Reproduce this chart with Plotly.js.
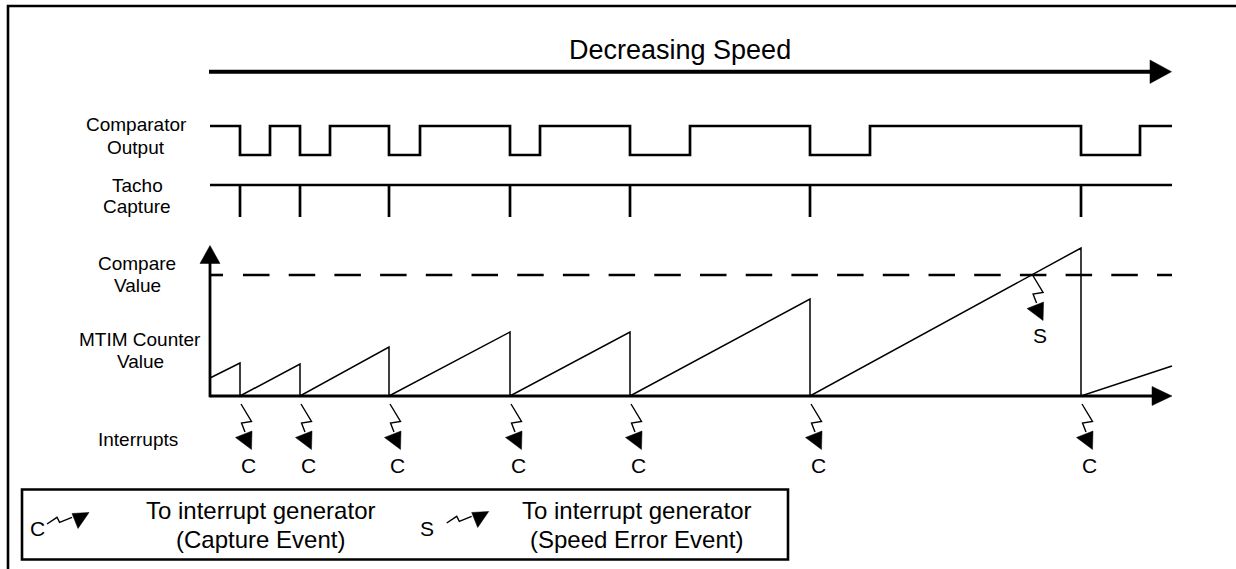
<!DOCTYPE html>
<html><head><meta charset="utf-8">
<script src="https://cdn.plot.ly/plotly-3.0.1.min.js"></script>
<style>html,body{margin:0;padding:0;background:#fff}</style>
</head><body><div id="chart" style="width:1236px;height:569px"></div>
<script>
// ---------------- data ----------------
const captureTimes = [3.0, 9.0, 17.9, 30.0, 42.0, 60.0, 87.1];   // tacho capture events (time units)
const riseTimes    = [6.0, 12.0, 21.0, 33.0, 48.0, 66.0, 93.0];   // comparator rising edges
const counterPeaks = [33, 32, 49, 64, 64, 97, 148];               // MTIM counter value at each capture
const counterStart = 18;     // counter value at start of window
const counterEnd   = 30;     // counter value at end of window
const compareValue = 121;
const tStart = 0, tEnd = 96.2;
const captureLabels = ['C', 'C', 'C', 'C', 'C', 'C', 'C'];
const speedErrorLabel = 'S';
const titleText = 'Decreasing Speed';
const rowLabels = [['Comparator', 'Output'], ['Tacho', 'Capture'], ['Compare', 'Value'], ['MTIM Counter', 'Value'], ['Interrupts']];
const legendItems = [
  {sym: 'C', lines: ['To interrupt generator', '(Capture Event)']},
  {sym: 'S', lines: ['To interrupt generator', '(Speed Error Event)']}
];

// ---------------- geometry ----------------
const W = 1236, H = 569;
const FONT = '"Liberation Sans", Arial, Helvetica, sans-serif';
const X0PX = 210, PXPERT = 10;                     // time axis placement
const tx = t => X0PX + PXPERT * t;                  // for pixel-offset glyphs
const BASE = 396;                                   // counter axis baseline
function yRange(a, pa, b, pb) {                     // value a at pixel pa, value b at pixel pb
  const upp = (b - a) / (pa - pb);
  return [a - (H - pa) * upp, a + pa * upp];
}
const PX = p => p / W, PY = p => 1 - p / H;
function ppath(pts, close) {
  return pts.map((p, i) => (i ? 'L' : 'M') + PX(p[0]).toFixed(5) + ',' + PY(p[1]).toFixed(5)).join(' ') + (close ? ' Z' : '');
}

// ---------------- traces ----------------
const traces = [];
// comparator output
const cx = [tStart], cy = [1];
captureTimes.forEach((c, i) => { cx.push(c, riseTimes[i]); cy.push(0, 1); });
cx.push(tEnd); cy.push(1);
traces.push({x: cx, y: cy, yaxis: 'y2', mode: 'lines', line: {shape: 'hv', color: '#000', width: 2.7}, hoverinfo: 'skip'});
// tacho capture
const tkx = [tStart, tEnd], tky = [1, 1];
captureTimes.forEach(c => { tkx.push(null, c, c); tky.push(null, 1, 0); });
traces.push({x: tkx, y: tky, yaxis: 'y3', mode: 'lines', line: {color: '#000', width: 2.7}, hoverinfo: 'skip'});
// counter sawtooth
const sx = [tStart], sy = [counterStart];
captureTimes.forEach((c, i) => { sx.push(c, c); sy.push(counterPeaks[i], 0); });
sx.push(tEnd); sy.push(counterEnd);
traces.push({x: sx, y: sy, mode: 'lines', line: {color: '#000', width: 1.5}, hoverinfo: 'skip'});
// compare value (dashed)
traces.push({x: [tStart, tStart + 1.3], y: [compareValue, compareValue], mode: 'lines', line: {color: '#000', width: 2.6}, hoverinfo: 'skip'});
traces.push({x: [tStart + 3.3, tEnd], y: [compareValue, compareValue], mode: 'lines', line: {color: '#000', width: 2.6, dash: '26.5px,19.2px'}, hoverinfo: 'skip'});

// ---------------- shapes ----------------
const shapes = [];
const blk = {color: '#000', width: 2.6};
// outer frame
shapes.push({type: 'path', xref: 'paper', yref: 'paper', path: ppath([[8, H + 2], [8, 6], [W + 2, 6]]), line: {color: '#000', width: 2.6}});
// legend box
shapes.push({type: 'path', xref: 'paper', yref: 'paper', path: ppath([[22, 489.5], [788, 489.5], [788, 559.5], [22, 559.5]], true), line: blk});
// decreasing speed arrow
shapes.push({type: 'path', xref: 'paper', yref: 'paper', path: ppath([[X0PX - 1, 71.7], [1152, 71.7]]), line: {color: '#000', width: 4}});
shapes.push({type: 'path', xref: 'paper', yref: 'paper', path: ppath([[1150, 60], [1171.5, 71.7], [1150, 83.4]], true), fillcolor: '#000', line: {color: '#000', width: 0.5}});
// counter axes
shapes.push({type: 'path', xref: 'paper', yref: 'paper', path: ppath([[X0PX, BASE + 1.3], [X0PX, 262]]), line: {color: '#000', width: 2.8}});
shapes.push({type: 'path', xref: 'paper', yref: 'paper', path: ppath([[200, 263.5], [X0PX, 245.5], [220, 263.5]], true), fillcolor: '#000', line: {color: '#000', width: 0.5}});
shapes.push({type: 'path', xref: 'paper', yref: 'paper', path: ppath([[X0PX, BASE], [1154, BASE]]), line: {color: '#000', width: 2.8}});
shapes.push({type: 'path', xref: 'paper', yref: 'paper', path: ppath([[1152, 386.5], [1172, BASE], [1152, 405.5]], true), fillcolor: '#000', line: {color: '#000', width: 0.5}});

// lightning glyph (vertical, pointing down)
const ZIG = [[1, 0], [11.5, 17.5], [1.5, 19], [5, 28]];
const TRI = [[-4.5, 33.5], [12, 27], [11.5, 45.5]];
function vGlyph(x, y) {
  shapes.push({type: 'path', xref: 'paper', yref: 'paper', path: ppath(ZIG.map(p => [x + p[0], y + p[1]])), line: {color: '#000', width: 1.4}});
  shapes.push({type: 'path', xref: 'paper', yref: 'paper', path: ppath(TRI.map(p => [x + p[0], y + p[1]]), true), fillcolor: '#000', line: {color: '#000', width: 0.5}});
}
captureTimes.forEach(c => vGlyph(tx(c), BASE + 8));
// speed error event: where the ramp crosses the compare value
const lastIdx = counterPeaks.findIndex(p => p > compareValue);
const tCross = captureTimes[lastIdx - 1] + (captureTimes[lastIdx] - captureTimes[lastIdx - 1]) * compareValue / counterPeaks[lastIdx];
vGlyph(tx(tCross), BASE - compareValue);

// legend glyph (horizontal)
const LZIG = [[0, 0], [10, -6.7], [12.6, -1.7], [25, -6.7]];
const LTRI = [[25, -10.5], [42, -11.5], [31, 4.5]];
function hGlyph(x, y) {
  shapes.push({type: 'path', xref: 'paper', yref: 'paper', path: ppath(LZIG.map(p => [x + p[0], y + p[1]])), line: {color: '#000', width: 1.4}});
  shapes.push({type: 'path', xref: 'paper', yref: 'paper', path: ppath(LTRI.map(p => [x + p[0], y + p[1]]), true), fillcolor: '#000', line: {color: '#000', width: 0.5}});
}
hGlyph(47, 524);
hGlyph(446.7, 523);

// ---------------- annotations ----------------
const ann = [];
function txt(s, x, y, size, anchor) {
  ann.push({text: s, x: PX(x), y: PY(y), xref: 'paper', yref: 'paper', showarrow: false, borderpad: 0,
            xanchor: anchor || 'center', yanchor: 'middle', font: {family: FONT, size: size, color: '#000'}});
}
txt(titleText, 680, 50, 27);
const rowPos = [[136, [125, 147]], [137, [185, 207]], [137, [263, 285]], [140, [339, 361]], [138, [439]]];
rowLabels.forEach((lines, i) => lines.forEach((s, j) => txt(s, rowPos[i][0], rowPos[i][1][j], 19)));
captureTimes.forEach((c, i) => {
  ann.push({text: captureLabels[i], x: c + 0.83, y: -(465 - BASE), xref: 'x', yref: 'y', showarrow: false,
            xanchor: 'center', yanchor: 'middle', font: {family: FONT, size: 21, color: '#000'}});
});
ann.push({text: speedErrorLabel, x: tCross + 0.84, y: BASE - 335, xref: 'x', yref: 'y', showarrow: false,
          xanchor: 'center', yanchor: 'middle', font: {family: FONT, size: 21, color: '#000'}});
// legend
const legPos = [{sx: 37, tx: 260}, {sx: 427, tx: 636}];
legendItems.forEach((it, i) => {
  txt(it.sym, legPos[i].sx, 528, 21);
  txt(it.lines[0], legPos[i].tx, 510, 24);
  txt(it.lines[1], legPos[i].tx, 539, 24);
});

const layout = {
  width: W, height: H, margin: {l: 0, r: 0, t: 0, b: 0, pad: 0},
  paper_bgcolor: '#fff', plot_bgcolor: '#fff', showlegend: false,
  xaxis: {domain: [0, 1], range: [-X0PX / PXPERT, (W - X0PX) / PXPERT], visible: false, fixedrange: true},
  yaxis: {domain: [0, 1], range: yRange(0, BASE, 1, BASE - 1), visible: false, fixedrange: true},
  yaxis2: {domain: [0, 1], overlaying: 'y', range: yRange(0, 155, 1, 126), visible: false, fixedrange: true},
  yaxis3: {domain: [0, 1], overlaying: 'y', range: yRange(0, 217, 1, 185), visible: false, fixedrange: true},
  shapes: shapes, annotations: ann
};
Plotly.newPlot('chart', traces, layout, {staticPlot: true, displayModeBar: false});
</script></body></html>
